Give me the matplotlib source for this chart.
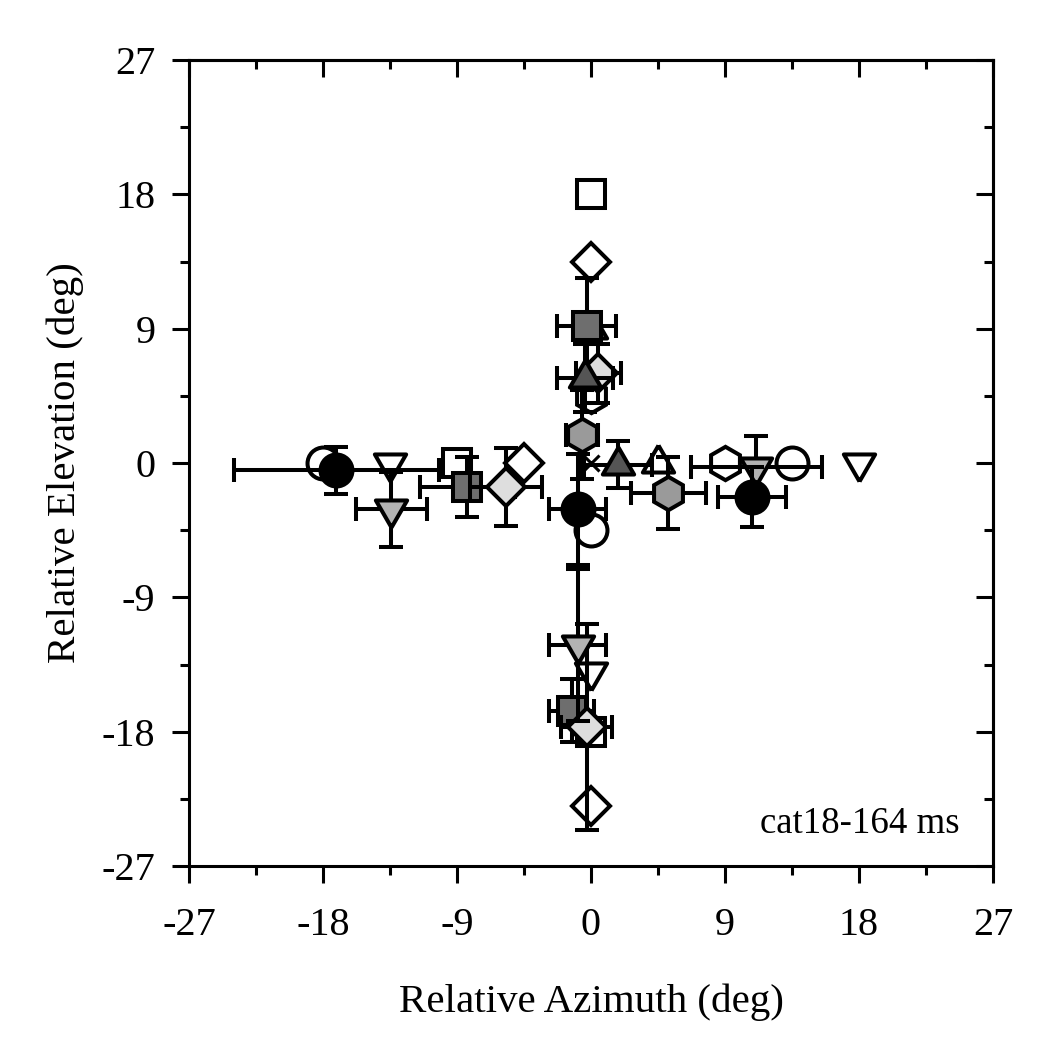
"""
Localization cross plot: open symbols are targets, filled symbols with
error bars are the mean responses.
"""

import matplotlib
matplotlib.use("Agg")
import matplotlib.pyplot as plt
from matplotlib.ticker import FixedLocator, FixedFormatter

plt.rcParams['font.family'] = ['Liberation Serif', 'DejaVu Serif']
plt.rcParams['axes.unicode_minus'] = False

# ---- data (deg) ----
major_ticks = [-27, -18, -9, 0, 9, 18, 27]
minor_ticks = [-22.5, -13.5, -4.5, 4.5, 13.5, 22.5]
tick_labels = ["-27", "-18", "-9", "0", "9", "18", "27"]

# circle (black)
circ_tx = [-18, 13.5, 0]
circ_ty = [0, 0, -4.5]
circ_rx = [-17.1, 10.8, -0.9]
circ_ry = [-0.5, -2.3, -3.1]
circ_xe = [6.9, 2.3, 1.9]
circ_ye = [1.6, 2.0, 3.7]

# down triangle (light grey)
dtri_tx = [-13.5, 18, 0]
dtri_ty = [0, 0, -14]
dtri_rx = [-13.4, 11.1, -0.9]
dtri_ry = [-3.1, -0.3, -12.2]
dtri_xe = [2.4, 4.4, 1.9]
dtri_ye = [2.5, 2.1, 5.1]

# square (dark grey)
sq_tx = [-9, 0, 0]
sq_ty = [0, 18, -18]
sq_rx = [-8.3, -0.3, -1.3]
sq_ry = [-1.6, 9.2, -16.6]
sq_xe = [3.2, 2.0, 1.5]
sq_ye = [2.0, 3.2, 2.1]

# diamond (very light grey)
dia_tx = [-4.5, 0, 0]
dia_ty = [0, 13.5, -23]
dia_rx = [-5.7, 0.5, -0.3]
dia_ry = [-1.6, 6.0, -17.7]
dia_xe = [2.4, 1.5, 1.7]
dia_ye = [2.6, 2.0, 6.9]

# up triangle (dark grey)
utri_tx = [4.5, 0]
utri_ty = [0, 9]
utri_rx = [1.8, -0.4]
utri_ry = [-0.1, 5.7]
utri_xe = [2.3, 1.9]
utri_ye = [1.6, 2.3]

# hexagon (mid grey)
hex_tx = [9, 0]
hex_ty = [0, 4.5]
hex_rx = [5.2, -0.6]
hex_ry = [-2.0, 1.9]
hex_xe = [2.5, 1.1]
hex_ye = [2.4, 3.0]

# fixation mark
fix_x = [0]
fix_y = [0]

# triangles centred on their centroid, like the original
UP_TRI = [(0, 1), (-0.866, -0.5), (0.866, -0.5), (0, 1)]
DN_TRI = [(0, -1), (-0.866, 0.5), (0.866, 0.5), (0, -1)]

LW = 2.2    # axes
MLW = 2.9   # markers / error bars
EB = dict(ecolor='k', elinewidth=MLW, capsize=8.3, capthick=MLW,
          mec='k', mew=MLW, linestyle='none')

series = [
    # marker, size, fill, targets, responses
    ('s', 19.5, '#6e6e6e', sq_tx, sq_ty, sq_rx, sq_ry, sq_xe, sq_ye),
    ('D', 18.9, '#dedede', dia_tx, dia_ty, dia_rx, dia_ry, dia_xe, dia_ye),
    (DN_TRI, 26, '#b3b3b3', dtri_tx, dtri_ty, dtri_rx, dtri_ry, dtri_xe, dtri_ye),
    (UP_TRI, 26, '#555555', utri_tx, utri_ty, utri_rx, utri_ry, utri_xe, utri_ye),
    ('h', 24, '#9a9a9a', hex_tx, hex_ty, hex_rx, hex_ry, hex_xe, hex_ye),
    ('o', 23, '#000000', circ_tx, circ_ty, circ_rx, circ_ry, circ_xe, circ_ye),
]

fig = plt.figure(figsize=(10.5, 10.6), dpi=100)
ax = fig.add_axes([0.18, 0.183, 0.7657, 0.7604])

# targets first (open, unfilled)
for m, ms, fc, tx, ty, rx, ry, xe, ye in series:
    ax.plot(tx, ty, linestyle='none', marker=m, ms=ms, mfc='none',
            mec='k', mew=MLW, zorder=2)
ax.plot(fix_x, fix_y, linestyle='none', marker='x', ms=11, mec='k',
        mew=2.2, zorder=2)

# responses with error bars
z = 3
for m, ms, fc, tx, ty, rx, ry, xe, ye in series:
    ax.errorbar(rx, ry, xerr=xe, yerr=ye, marker=m, ms=ms, mfc=fc,
                zorder=z, **EB)
    z += 1

ax.set_xlim(-27, 27)
ax.set_ylim(-27, 27)

for axis in (ax.xaxis, ax.yaxis):
    axis.set_major_locator(FixedLocator(major_ticks))
    axis.set_minor_locator(FixedLocator(minor_ticks))
    axis.set_major_formatter(FixedFormatter(tick_labels))

ax.tick_params(which='both', direction='out', width=LW, labelsize=29,
               top=False, right=False)
ax.tick_params(axis='x', which='major', pad=17)
ax.tick_params(axis='y', which='major', pad=12)
ax.tick_params(which='major', length=12.2)
ax.tick_params(which='minor', length=6.5)

# inward ticks on top and right
sec_x = ax.secondary_xaxis('top')
sec_y = ax.secondary_yaxis('right')
for sec in (sec_x, sec_y):
    sec.set_ticks(major_ticks)
    sec.set_ticks(minor_ticks, minor=True)
    sec.tick_params(which='both', direction='in', width=LW,
                    labelleft=False, labelright=False,
                    labeltop=False, labelbottom=False)
    sec.tick_params(which='major', length=12.2)
    sec.tick_params(which='minor', length=6.5)
    for sp in sec.spines.values():
        sp.set_linewidth(LW)

for sp in ax.spines.values():
    sp.set_linewidth(LW)

ax.set_xlabel("Relative Azimuth (deg)", fontsize=29.5, labelpad=29)
ax.set_ylabel("Relative Elevation (deg)", fontsize=29.5, labelpad=13)

ax.text(0.959, 0.041, "cat18-164 ms", transform=ax.transAxes,
        ha='right', va='baseline', fontsize=26.5)

fig.savefig("out.png", dpi=100)
